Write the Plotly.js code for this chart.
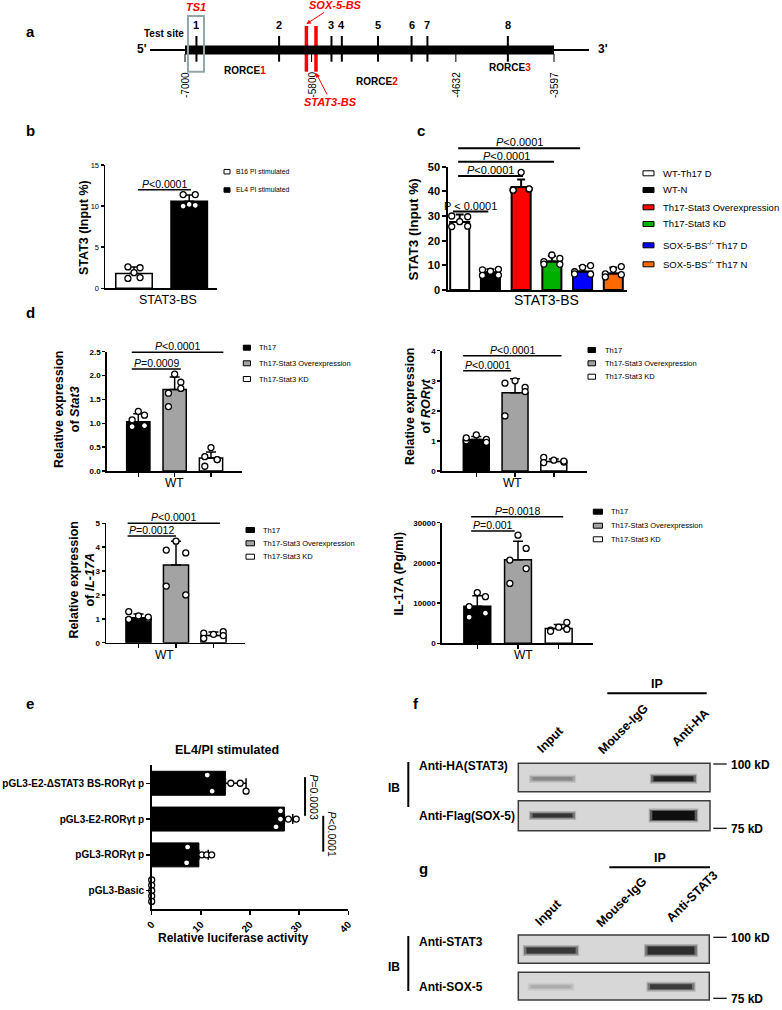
<!DOCTYPE html>
<html><head><meta charset="utf-8">
<script src="https://cdn.plot.ly/plotly-3.0.1.min.js"></script>
<style>html,body{margin:0;padding:0;background:#fff;}#fig{width:782px;height:1010px;}</style>
</head><body><div id="fig"></div>
<script>
/* ======================= DATA ======================= */
// a: RORC locus schematic (positions in % of the region -7000 .. -3597)
const a_siteLabels = ['1','2','3','4','5','6','7','8'];
const a_sitePos = [3.1, 25.5, 39.7, 42.5, 52.3, 61.4, 65.7, 87.5];
const a_bindingSites = ['SOX-5-BS','STAT3-BS'];
const a_bindingPos = [32.9, 35.5];
const a_coordLabels = ['-7000','-5800','-4632','-3597'];
const a_coordPos = [0, 34.3, 73.4, 100];
const a_regionNames = ['RORCE','RORCE','RORCE'];
const a_regionNums = ['1','2','3'];
const a_regionPos = [16.3, 51.9, 88.1];

// b
const b_groups = ['B16 PI stimulated','EL4 PI stimulated'];
const b_mean = [1.8, 10.6];
const b_sd = [0.8, 0.75];
const b_points = [[2.6,2.5,1.9,1.2,1.3],[11.4,11.4,10.2,10.0,10.1]];
const b_yTicks = [0,5,10,15];
const b_pPairs = [[0,1]];
const b_pLevels = [12];
const b_pTexts = ['<i>P</i>&lt;0.0001'];

// c
const c_groups = ['WT-Th17 D','WT-N','Th17-Stat3 Overexpression','Th17-Stat3 KD','SOX-5-BS<sup>-/-</sup> Th17 D','SOX-5-BS<sup>-/-</sup> Th17 N'];
const c_mean = [27.6, 7.2, 41.8, 11.6, 7.5, 6.7];
const c_sd = [3.0, 1.2, 3.0, 2.2, 2.2, 2.4];
const c_points = [[30.0,29.7,27.7,25.7,25.9],[8.2,8.4,7.6,5.9,6.0],[40.6,40.9,47.7,40.5,41.0],[11.5,12.8,14.2,10.5,10.4],[7.4,9.9,9.2,6.5,6.4],[6.5,9.5,8.4,5.3,6.2]];
const c_yTicks = [0,10,20,30,40,50];
const c_pPairs = [[0,1],[0,2],[0,3],[0,4]];
const c_pLevels = [31.8, 46.2, 52.0, 57.5];
const c_pTexts = ['P &lt; 0.0001','<i>P</i>&lt;0.0001','<i>P</i>&lt;0.0001','<i>P</i>&lt;0.0001'];

// d (shared groups)
const d_groups = ['Th17','Th17-Stat3 Overexpression','Th17-Stat3 KD'];
const d_xLabel = 'WT';
// d1 Stat3
const d1_mean = [1.03, 1.71, 0.27];
const d1_sd = [0.17, 0.26, 0.13];
const d1_points = [[0.93,0.95,1.25,1.07,1.17],[1.63,1.86,2.03,1.35,1.73],[0.30,0.24,0.49,0.10,0.24]];
const d1_yTicks = [0,0.5,1,1.5,2,2.5];
const d1_pPairs = [[0,1],[0,2]];
const d1_pLevels = [2.14, 2.49];
const d1_pTexts = ['<i>P</i>=0.0009','<i>P</i>&lt;0.0001'];
// d2 RORγt
const d2_mean = [1.05, 2.60, 0.32];
const d2_sd = [0.10, 0.47, 0.08];
const d2_points = [[1.00,1.05,1.20,1.10,0.95],[2.92,2.78,3.00,1.83,2.64],[0.45,0.30,0.36,0.28,0.33]];
const d2_yTicks = [0,1,2,3,4];
const d2_pPairs = [[0,1],[0,2]];
const d2_pLevels = [3.33, 3.83];
const d2_pTexts = ['<i>P</i>&lt;0.0001','<i>P</i>&lt;0.0001'];
// d3 IL-17A mRNA
const d3_mean = [1.05, 3.25, 0.30];
const d3_sd = [0.15, 1.00, 0.15];
const d3_points = [[1.30,1.00,1.12,0.98,1.07],[3.88,3.76,4.25,2.37,2.00],[0.40,0.46,0.35,0.18,0.30]];
const d3_yTicks = [0,1,2,3,4,5];
const d3_pPairs = [[0,1],[0,2]];
const d3_pLevels = [4.47, 5.0];
const d3_pTexts = ['<i>P</i>=0.0012','<i>P</i>&lt;0.0001'];
// d4 IL-17A protein
const d4_mean = [9200, 20800, 3700];
const d4_sd = [2600, 4600, 1000];
const d4_points = [[9100,7500,12600,6500,11600],[20700,23600,26900,14900,18600],[3300,5200,4000,3000,3500]];
const d4_yTicks = [0,10000,20000,30000];
const d4_pPairs = [[0,1],[0,2]];
const d4_pLevels = [27930, 31490];
const d4_pTexts = ['<i>P</i>=0.001','<i>P</i>=0.0018'];

// e (bottom to top)
const e_constructs = ['pGL3-Basic','pGL3-RORγt p','pGL3-E2-RORγt p','pGL3-E2-ΔSTAT3 BS-RORγt p'];
const e_mean = [0.05, 9.6, 27.0, 15.0];
const e_sd = [0, 1.9, 1.7, 4.2];
const e_points = [[0,0,0,0,0],[7.3,7.1,10.2,11.2,12.2],[26.2,25.3,26.2,27.8,29.4],[11.3,12.3,16.1,18.0,19.2]];
const e_xTicks = [0,10,20,30,40];
const e_pPairs = [[3,2],[2,1]];
const e_pLevels = [31.2, 34.9];
const e_pTexts = ['<i>P</i>=0.0003','<i>P</i>&lt;0.0001'];

// f, g blots (relative band intensity, 0..1)
const f_lanes = ['Input','Mouse-IgG','Anti-HA'];
const f_rows = ['Anti-HA(STAT3)','Anti-Flag(SOX-5)'];
const f_intensity = [[0.40,0.0,0.92],[0.82,0.0,1.0]];
const g_lanes = ['Input','Mouse-IgG','Anti-STAT3'];
const g_rows = ['Anti-STAT3','Anti-SOX-5'];
const g_intensity = [[0.80,0.0,0.85],[0.22,0.0,0.78]];
const mw_markers = ['100 kD','75 kD'];

/* ======================= STYLE / GEOMETRY ======================= */
const W = 782, H = 1010;
const FONT = 'Liberation Sans, Arial, sans-serif';
const PX = x => x / W, PY = y => 1 - y / H;
const domX = (a, b) => [a / W, b / W];
const domY = (top, bot) => [1 - bot / H, 1 - top / H];
const fnt = (size, o) => Object.assign({family: FONT, size: size, color: '#000'}, o || {});
const JIT = [-1, 1, 0, -1, 1];

const traces = [], shapes = [], annotations = [];
const layout = {width: W, height: H, margin: {l:0, r:0, t:0, b:0}, paper_bgcolor: '#fff', plot_bgcolor: 'rgba(0,0,0,0)',
  showlegend: false, shapes: shapes, annotations: annotations, bargap: 0};

function T(x, y, text, font, extra) {
  annotations.push(Object.assign({xref:'paper', yref:'paper', x: PX(x), y: PY(y), xanchor:'center', yanchor:'middle',
    text: text, showarrow: false, font: font}, extra || {}));
}
function rect(x0, y0, x1, y1, fill, line, lw, layer) {
  shapes.push({type:'rect', xref:'paper', yref:'paper', x0: PX(x0), x1: PX(x1), y0: PY(y1), y1: PY(y0),
    fillcolor: fill, line: {color: line, width: lw}, layer: layer || 'above'});
}
function seg(x0, y0, x1, y1, color, w) {
  shapes.push({type:'line', xref:'paper', yref:'paper', x0: PX(x0), y0: PY(y0), x1: PX(x1), y1: PY(y1), line: {color: color, width: w}});
}
function legend(items, colors, bx0, bx1, ys, bh, tx, font) {
  items.forEach((t, i) => {
    rect(bx0, ys[i] - bh / 2, bx1, ys[i] + bh / 2, colors[i], '#000', 1);
    T(tx, ys[i], t, font, {xanchor: 'left'});
  });
}

/* ---------- panel letters ---------- */
const letterFont = fnt(15, {weight: 'bold'});
[['a',30,31.7],['b',30,130],['c',421,130],['d',30,312],['e',30,703],['f',416,703],['g',423,868]]
  .forEach(l => T(l[1], l[2], l[0], letterFont));

/* ---------- panel a ---------- */
(function () {
  const unit = 3.69, x0px = 185;
  const xr = [(120 - x0px) / unit, 100 + (620 - 554) / unit];
  layout.xaxis = {domain: domX(120, 620), range: xr, visible: false, fixedrange: true, anchor: 'y'};
  layout.yaxis = {domain: domY(0, 112), range: [112, 0], visible: false, fixedrange: true, anchor: 'x'};
  const ln = (xs, y0, y1) => {const X = [], Y = []; xs.forEach(v => {X.push(v, v, null); Y.push(y0, y1, null);}); return {X, Y};};
  traces.push({type:'scatter', mode:'lines', x:[(150 - x0px) / unit, 0, null, 100, (589 - x0px) / unit], y:[50,50,null,50,50],
    line:{color:'#000', width:2}, xaxis:'x', yaxis:'y', hoverinfo:'skip'});
  shapes.push({type:'rect', xref:'x', yref:'y', x0: a_coordPos[0], x1: a_coordPos[3], y0: 45.5, y1: 54.5, fillcolor:'#000', line:{width:0}});
  const s = ln(a_sitePos, 36, 61.7);
  traces.push({type:'scatter', mode:'lines', x:s.X, y:s.Y, line:{color:'#000', width:2}, xaxis:'x', yaxis:'y', hoverinfo:'skip'});
  const c = ln(a_coordPos, 54, 62);
  traces.push({type:'scatter', mode:'lines', x:c.X, y:c.Y, line:{color:'#000', width:1}, xaxis:'x', yaxis:'y', hoverinfo:'skip'});
  const r = ln(a_bindingPos, 26, 71.7);
  traces.push({type:'scatter', mode:'lines', x:r.X, y:r.Y, line:{color:'#ff0000', width:3.5}, xaxis:'x', yaxis:'y', hoverinfo:'skip'});
  shapes.push({type:'rect', xref:'x', yref:'y', x0: a_sitePos[0] - 2.3, x1: a_sitePos[0] + 2.05, y0: 16, y1: 71.7,
    line:{color:'#93a7ab', width:2}, fillcolor:'rgba(0,0,0,0)'});
  const A = o => annotations.push(Object.assign({xref:'x', yref:'y', xanchor:'center', yanchor:'middle', showarrow:false}, o));
  a_siteLabels.forEach((t, i) => A({x: a_sitePos[i], y: 25, text: t, font: fnt(11, {weight:'bold'})}));
  A({x: a_sitePos[0], y: 7, text: 'TS1', font: fnt(11, {weight:'bold', style:'italic', color:'#ff0000'})});
  a_coordLabels.forEach((t, i) => A({x: a_coordPos[i], y: 85, text: t, textangle: -90, font: fnt(10)}));
  const regY = [70, 81, 67.3];
  a_regionNames.forEach((t, i) => A({x: a_regionPos[i], y: regY[i],
    text: t + '<span style="color:#ff0000">' + a_regionNums[i] + '</span>', font: fnt(10, {weight:'bold'})}));
  annotations.push({xref:'x', yref:'y', x: a_bindingPos[0], y: 24, ax: 29, ay: -19, text: a_bindingSites[0], showarrow:true,
    arrowhead:2, arrowsize:0.9, arrowwidth:1, arrowcolor:'#ff0000', font: fnt(11, {weight:'bold', style:'italic', color:'#ff0000'})});
  annotations.push({xref:'x', yref:'y', x: a_bindingPos[1], y: 73, ax: 15, ay: 29, text: a_bindingSites[1], showarrow:true,
    arrowhead:2, arrowsize:0.9, arrowwidth:1, arrowcolor:'#ff0000', font: fnt(11, {weight:'bold', style:'italic', color:'#ff0000'})});
  T(186, 33, 'Test site', fnt(10, {weight:'bold'}), {xanchor:'right'});
  T(142, 48.5, "5'", fnt(12, {weight:'bold'}));
  T(603, 48.5, "3'", fnt(12, {weight:'bold'}));
})();

/* ---------- bar panels ---------- */
function barPanel(k, d, g) {
  const n = d.mean.length, idx = d.mean.map((_, i) => i);
  const unit = (g.c1 - g.c0) / (n - 1);
  const xr = [-(g.c0 - g.x[0]) / unit, (n - 1) + (g.x[1] - g.c1) / unit];
  const xd = domX(g.x[0], g.x[1]), yd = domY(g.y[0], g.y[1]);
  const xa = 'x' + k, ya = 'y' + k;
  layout['xaxis' + k] = {domain: xd, range: xr, anchor: ya, showline: true, linecolor: '#000', linewidth: g.lw,
    showgrid: false, zeroline: false, fixedrange: true, ticks: d.xLabel ? 'outside' : '', ticklen: 4, tickwidth: g.lw,
    tickcolor: '#000', tickmode: 'array', tickvals: d.xLabel ? idx : [], showticklabels: false};
  layout['yaxis' + k] = {domain: yd, range: [0, g.ymax], anchor: xa, showline: true, linecolor: '#000', linewidth: g.lw,
    showgrid: false, zeroline: false, fixedrange: true, ticks: 'outside', ticklen: g.tl || 4, tickwidth: g.lw, tickcolor: '#000',
    tickmode: 'array', tickvals: d.yTicks, tickformat: d.tickFormat || '', tickfont: g.tickFont};
  traces.push({type: 'bar', x: idx, y: d.mean, width: g.bw, xaxis: xa, yaxis: ya, name: '',
    marker: {color: d.colors, line: {color: '#000', width: g.lw}},
    error_y: {type: 'data', symmetric: false, array: d.sd, arrayminus: d.sd.map(() => 0), color: '#000', thickness: g.lw, width: g.capW},
    hoverinfo: 'y'});
  d.points.forEach((arr, i) => traces.push({type: 'scatter', mode: 'markers', x: arr.map((_, j) => i + JIT[j % 5] * g.jit), y: arr,
    xaxis: xa, yaxis: ya, cliponaxis: false, hoverinfo: 'y',
    marker: {size: 6, color: '#fff', line: {color: '#000', width: 1.3}}}));
  const fx = v => xd[0] + (v - xr[0]) / (xr[1] - xr[0]) * (xd[1] - xd[0]);
  const fy = v => yd[0] + v / g.ymax * (yd[1] - yd[0]);
  if (d.xLabel) {
    annotations.push({xref: 'paper', yref: 'paper', x: fx((n - 1) / 2), y: yd[0], xanchor: 'center', yanchor: 'top', yshift: -3,
      xshift: g.xLabShift || 0, showarrow: false, text: d.xLabel, font: fnt(12)});
  }
  d.pPairs.forEach((pr, i) => {
    const off = g.pOff[i];
    const x0 = fx(pr[0] + off[0]), x1 = fx(pr[1] + off[1]), y = fy(d.pLevels[i]);
    shapes.push({type: 'line', xref: 'paper', yref: 'paper', x0: x0, x1: x1, y0: y, y1: y, line: {color: '#000', width: g.lw}});
    annotations.push({xref: 'paper', yref: 'paper', x: (x0 + x1) / 2, y: y, xanchor: 'center', yanchor: 'bottom', yshift: -2,
      showarrow: false, text: d.pTexts[i], font: fnt(g.pSize)});
  });
}

const smallTick = fnt(8, {weight: 'bold'});
const dColors = ['#000000', '#a3a3a3', '#ffffff'];

barPanel(2, {mean: b_mean, sd: b_sd, points: b_points, colors: ['#ffffff', '#000000'], yTicks: b_yTicks,
  pPairs: b_pPairs, pLevels: b_pLevels, pTexts: b_pTexts},
  {x: [105, 217], y: [165, 288.3], c0: 134, c1: 189.2, ymax: 15, bw: 0.66, lw: 1.5, capW: 5, jit: 0.11, tl: 3,
   tickFont: fnt(7.5), pOff: [[0.07, 0.03]], pSize: 10.5});
barPanel(3, {mean: c_mean, sd: c_sd, points: c_points, colors: ['#ffffff', '#000000', '#ff0000', '#00b000', '#0000ff', '#ff6a00'],
  yTicks: c_yTicks, pPairs: c_pPairs, pLevels: c_pLevels, pTexts: c_pTexts},
  {x: [448.3, 626.7], y: [166.7, 290], c0: 459.7, c1: 613.3, ymax: 50, bw: 0.62, lw: 2, capW: 4, jit: 0.26,
   tickFont: fnt(11, {weight: 'bold'}), pOff: [[-0.22, -0.07], [-0.05, 0.06], [-0.05, 0.07], [-0.05, -0.08]], pSize: 11});
barPanel(4, {mean: d1_mean, sd: d1_sd, points: d1_points, colors: dColors, yTicks: d1_yTicks, tickFormat: '.1f',
  xLabel: d_xLabel, pPairs: d1_pPairs, pLevels: d1_pLevels, pTexts: d1_pTexts},
  {x: [106.7, 241.7], y: [351.7, 471], c0: 138.3, c1: 211, ymax: 2.5, bw: 0.64, lw: 1.5, capW: 5, jit: 0.17, tl: 3,
   tickFont: smallTick, pOff: [[-0.18, 0.17], [-0.18, 0.34]], pSize: 10.5});
barPanel(5, {mean: d2_mean, sd: d2_sd, points: d2_points, colors: dColors, yTicks: d2_yTicks,
  xLabel: d_xLabel, pPairs: d2_pPairs, pLevels: d2_pLevels, pTexts: d2_pTexts},
  {x: [441.7, 586.7], y: [350.7, 471], c0: 476.3, c1: 553.8, ymax: 4, bw: 0.67, lw: 1.5, capW: 5, jit: 0.26, tl: 3,
   tickFont: smallTick, pOff: [[-0.34, -0.1], [-0.34, 0.2]], pSize: 10.5, xLabShift: -3});
barPanel(6, {mean: d3_mean, sd: d3_sd, points: d3_points, colors: dColors, yTicks: d3_yTicks,
  xLabel: d_xLabel, pPairs: d3_pPairs, pLevels: d3_pLevels, pTexts: d3_pTexts},
  {x: [106, 245], y: [523.3, 642.7], c0: 138.5, c1: 213.5, ymax: 5, bw: 0.67, lw: 1.5, capW: 5, jit: 0.26, tl: 3,
   tickFont: smallTick, pOff: [[-0.29, 0.0], [-0.29, 0.17]], pSize: 10.5, xLabShift: -12});
barPanel(7, {mean: d4_mean, sd: d4_sd, points: d4_points, colors: dColors, yTicks: d4_yTicks, tickFormat: 'd',
  xLabel: d_xLabel, pPairs: d4_pPairs, pLevels: d4_pLevels, pTexts: d4_pTexts},
  {x: [441.7, 592.7], y: [522.7, 643.3], c0: 477.3, c1: 558.7, ymax: 30000, bw: 0.66, lw: 1.5, capW: 5, jit: 0.2, tl: 3,
   tickFont: smallTick, pOff: [[-0.15, -0.08], [-0.15, 0.11]], pSize: 10.5, xLabShift: 5});

// axis titles / x labels for b, c and titles for d
const titleB = fnt(12.5, {weight: 'bold'});
T(84, 228, 'STAT3 (Input %)', titleB, {textangle: -90});
T(168.3, 300, 'STAT3-BS', fnt(12.5));
T(413.5, 230, 'STAT3 (Input %)', fnt(13.5, {weight: 'bold'}), {textangle: -90});
T(546.7, 300, 'STAT3-BS', fnt(14));
T(67, 410, 'Relative expression<br>of <i>Stat3</i>', titleB, {textangle: -90});
T(418, 407, 'Relative expression<br>of <i>RORγt</i>', titleB, {textangle: -90});
T(81.5, 580, 'Relative expression<br>of <i>IL-17A</i>', titleB, {textangle: -90});
T(398.5, 574, 'IL-17A (Pg/ml)', titleB, {textangle: -90});

// legends
const legSmall = fnt(7.5);
legend(b_groups, ['#ffffff', '#000000'], 224, 230, [171.7, 190], 4.5, 234, fnt(6.8));
legend(c_groups, ['#ffffff', '#000000', '#ff0000', '#00b000', '#0000ff', '#ff6a00'], 643, 654,
  [173.3, 190, 207.3, 224, 245.3, 264.3], 5, 661, fnt(9.5));
legend(d_groups, dColors, 243.3, 250.5, [347.7, 363.3, 379], 5, 256.5, legSmall);
legend(d_groups, dColors, 588, 595.5, [350, 363.3, 376.7], 5, 603, legSmall);
legend(d_groups, dColors, 246, 254.5, [530, 543.3, 556.7], 5, 260.5, legSmall);
legend(d_groups, dColors, 593.3, 602.5, [511.7, 525.7, 539.3], 5, 609, legSmall);

/* ---------- panel e ---------- */
(function () {
  const xd = domX(151.7, 348.3), yd = domY(765, 909.3), yr = [-0.52, 3.51], xr = [0, 40];
  const bold10 = fnt(10, {weight: 'bold'});
  layout.xaxis8 = {domain: xd, range: xr, anchor: 'y8', showline: true, linecolor: '#000', linewidth: 1.5, ticks: 'outside',
    ticklen: 4, tickwidth: 1.5, tickcolor: '#000', tickmode: 'array', tickvals: e_xTicks, tickangle: -45, tickfont: bold10,
    showgrid: false, zeroline: false, fixedrange: true};
  layout.yaxis8 = {domain: yd, range: yr, anchor: 'x8', showline: true, linecolor: '#000', linewidth: 1.5, ticks: 'outside',
    ticklen: 4, tickwidth: 1.5, tickcolor: '#000', tickmode: 'array', tickvals: e_constructs.map((_, i) => i), ticktext: e_constructs,
    tickfont: bold10, showgrid: false, zeroline: false, fixedrange: true};
  traces.push({type: 'bar', orientation: 'h', y: e_constructs.map((_, i) => i), x: e_mean, width: 0.67, xaxis: 'x8', yaxis: 'y8',
    marker: {color: '#000', line: {color: '#000', width: 1}},
    error_x: {type: 'data', symmetric: false, array: e_sd, arrayminus: e_sd.map(() => 0), color: '#000', thickness: 1.5, width: 5},
    hoverinfo: 'x'});
  const EJ = [[0.3, 0.15, 0, -0.15, -0.3], [0.22, -0.22, 0, 0, 0], [0.23, -0.22, 0, 0, 0], [0.23, -0.22, 0, 0, -0.22]];
  e_points.forEach((arr, i) => traces.push({type: 'scatter', mode: 'markers', x: arr, y: arr.map((_, j) => i + EJ[i][j]),
    xaxis: 'x8', yaxis: 'y8', cliponaxis: false, hoverinfo: 'x',
    marker: {size: 6, color: '#fff', line: {color: '#000', width: 1.3}}}));
  const fx = v => xd[0] + (v - xr[0]) / (xr[1] - xr[0]) * (xd[1] - xd[0]);
  const fy = v => yd[0] + (v - yr[0]) / (yr[1] - yr[0]) * (yd[1] - yd[0]);
  const off = [[0.17, 0.09], [0.09, 0.09]];
  e_pPairs.forEach((pr, i) => {
    const x = fx(e_pLevels[i]), y0 = fy(pr[0] + off[i][0]), y1 = fy(pr[1] + off[i][1]);
    shapes.push({type: 'line', xref: 'paper', yref: 'paper', x0: x, x1: x, y0: y0, y1: y1, line: {color: '#000', width: 2}});
    annotations.push({xref: 'paper', yref: 'paper', x: x, y: (y0 + y1) / 2, xanchor: 'center', yanchor: 'middle', xshift: 9,
      textangle: 90, showarrow: false, text: e_pTexts[i], font: fnt(10.5)});
  });
  T(226.7, 750, 'EL4/PI stimulated', fnt(12.5, {weight: 'bold'}));
  T(233, 938, 'Relative luciferase activity', fnt(12, {weight: 'bold'}));
})();

/* ---------- panels f, g (blots) ---------- */
function blot(k, g, lanes, rows, intens) {
  const unit = (g.c1 - g.c0) / 2;
  const xr = [-(g.c0 - g.x[0]) / unit, 2 + (g.x[1] - g.c1) / unit];
  const rs = g.rowY[1] - g.rowY[0];
  const yr = [1 + (g.box2[1] - g.rowY[1]) / rs, -(g.rowY[0] - g.box1[0]) / rs];
  layout['xaxis' + k] = {domain: domX(g.x[0], g.x[1]), range: xr, visible: false, fixedrange: true, anchor: 'y' + k};
  layout['yaxis' + k] = {domain: domY(g.box1[0], g.box2[1]), range: yr, visible: false, fixedrange: true, anchor: 'x' + k};
  rect(g.x[0], g.box1[0], g.x[1], g.box1[1], '#d7d7d7', '#3c3c3c', 1.5, 'below');
  rect(g.x[0], g.box2[0], g.x[1], g.box2[1], '#d7d7d7', '#3c3c3c', 1.5, 'below');
  intens.forEach((row, r) => row.forEach((I, l) => {
    if (I <= 0.01) return;
    const v = Math.round(215 - 200 * I), col = 'rgb(' + v + ',' + v + ',' + v + ')';
    const hw = g.halfW[r][l], th = g.thick[r][l];
    [[th + 5, 0.22, 0.02], [th + 2, 0.5, 0], [th, 1, -0.04]].forEach(p => traces.push({type: 'scatter', mode: 'lines',
      x: [l - hw - p[2], l + hw + p[2]], y: [r, r],
      xaxis: 'x' + k, yaxis: 'y' + k, opacity: p[1], line: {color: col, width: p[0]}, hoverinfo: 'skip'}));
  }));
  const lf = fnt(12.5, {weight: 'bold'});
  lanes.forEach((t, i) => T(g.laneLab[i][0], g.laneLab[i][1], t, lf, {textangle: -45}));
  seg(g.ip[0], g.ip[2], g.ip[1], g.ip[2], '#000', 2);
  T((g.ip[0] + g.ip[1]) / 2, g.ip[2] - 9, 'IP', fnt(12.5, {weight: 'bold'}));
  const rf = fnt(12, {weight: 'bold'});
  rows.forEach((t, i) => T(416.5, g.rowLab[i], t, rf, {xanchor: 'left'}));
  seg(408.3, g.ib[0], 408.3, g.ib[1], '#000', 2);
  T(394, (g.ib[0] + g.ib[1]) / 2 + 3, 'IB', fnt(12, {weight: 'bold'}));
  mw_markers.forEach((t, i) => {
    seg(713.3, g.mw[i], 726.7, g.mw[i], '#000', 1.2);
    T(728.5, g.mw[i] + 1, t, fnt(12, {weight: 'bold'}), {xanchor: 'left'});
  });
}
blot(9, {x: [518.3, 710], c0: 552.5, c1: 673.5, box1: [763.3, 791.7], box2: [800.7, 830.7], rowY: [778.7, 815.5],
  halfW: [[0.37, 0.37, 0.37], [0.37, 0.37, 0.39]], thick: [[3.5, 0, 5], [4, 0, 9]],
  laneLab: [[550, 740], [623.3, 729], [690, 727.5]], ip: [607.3, 706.7, 693.3], rowLab: [766, 816], ib: [762, 807], mw: [764, 828.3]},
  f_lanes, f_rows, f_intensity);
blot(10, {x: [518.3, 709.3], c0: 551, c1: 671, box1: [935, 963.3], box2: [972.3, 1000], rowY: [950.5, 986.7],
  halfW: [[0.45, 0.37, 0.43], [0.37, 0.37, 0.39]], thick: [[6, 0, 8], [3, 0, 5]],
  laneLab: [[548, 913], [621.7, 901.7], [691.7, 896.7]], ip: [609.3, 710, 867.3], rowLab: [941.7, 986.7], ib: [936, 991], mw: [937.3, 998.3]},
  g_lanes, g_rows, g_intensity);

Plotly.newPlot('fig', traces, layout, {staticPlot: true, displayModeBar: false});
</script>
</body></html>
